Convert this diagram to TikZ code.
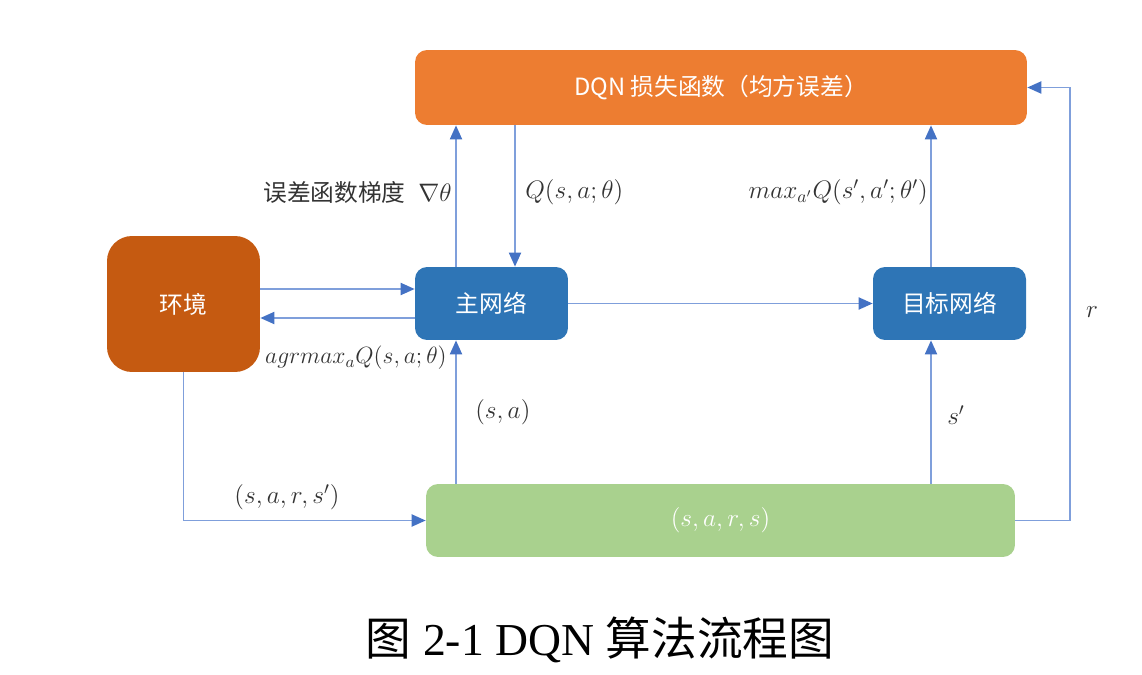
\RequirePackage{fix-cm}
\documentclass[tikz,border=0pt]{standalone}
\usepackage{fontspec}
\setmainfont{Liberation Serif}
\newfontfamily\cjk{Noto Sans CJK SC}
\usepackage{xcolor}
\usepackage{tikz}
\usetikzlibrary{arrows.meta}
\definecolor{lossfill}{HTML}{ED7D31}
\definecolor{envfill}{HTML}{C55A11}
\definecolor{netfill}{HTML}{2E75B6}
\definecolor{poolfill}{HTML}{A9D18E}
\definecolor{flowline}{HTML}{7F9FDB}
\definecolor{flowtip}{HTML}{4472C4}
\tikzset{
  % node options
  box/.style={rectangle,rounded corners=0.24cm,text=white,
    font=\fontsize{13.5pt}{16pt}\selectfont\cjk,inner sep=0pt},
  lossbox/.style={box,fill=lossfill,minimum width=12.24cm,minimum height=1.5cm},
  envbox/.style={box,fill=envfill,rounded corners=0.5cm,minimum width=3.06cm,minimum height=2.72cm},
  netbox/.style={box,fill=netfill,minimum width=3.06cm,minimum height=1.46cm},
  poolbox/.style={box,fill=poolfill,minimum width=11.78cm,minimum height=1.46cm,
    font=\fontsize{14.4pt}{16pt}\selectfont},
  lbl/.style={inner sep=0pt,text=black!80,font=\fontsize{14.4pt}{16pt}\selectfont},
  % path options
  flow/.style={draw=flowline,line width=1.1pt,
    -{Triangle[length=0.28cm,width=0.24cm,color=flowtip]}},
}
\begin{document}
\begin{tikzpicture}[x=0.02cm,y=-0.02cm]
  \useasboundingbox (0,0) rectangle (1142,675);
  \node[lossbox] (loss) at (721,87.5) {DQN 损失函数（均方误差）};
  \node[envbox] (env) at (183.5,304) {环境};
  \node[netbox] (main) at (491.5,303.5) {主网络};
  \node[netbox] (target) at (949.5,303.5) {目标网络};
  \node[poolbox] (pool) at (720.5,520.5) {$(s,a,r,s)$};
  % lanes of the connectors
  \coordinate (gradx) at (456,0);
  \coordinate (qx) at (515,0);
  \coordinate (tx) at (931,0);
  \coordinate (rx) at (1070,0);
  \coordinate (upy) at (0,289);
  \coordinate (downy) at (0,318);
  \draw[flow] (main.north -| gradx) -- (loss.south -| gradx);
  \draw[flow] (loss.south -| qx) -- (main.north -| qx);
  \draw[flow] (target.north -| tx) -- (loss.south -| tx);
  \draw[flow] (env.east |- upy) -- (main.west |- upy);
  \draw[flow] (main.west |- downy) -- (env.east |- downy);
  \draw[flow] (main) -- (target);
  \draw[flow] (pool.north -| gradx) -- (main.south -| gradx);
  \draw[flow] (pool.north -| tx) -- (target.south -| tx);
  \draw[flow] (env.south) |- (pool.west);
  \draw[flow] (pool.east) -- (pool.east -| rx) |- (loss.east);
  % labels
  \node[lbl,anchor=east] (gradlbl) at (452,192)
    {{\cjk\fontsize{13.5pt}{16pt}\selectfont 误差函数梯度}\enspace$\nabla\theta$};
  \node[lbl,anchor=west] (qlbl) at (525,192) {$Q(s,a;\theta)$};
  \node[lbl,anchor=east] (maxlbl) at (928,192) {$max_{a'}Q(s',a';\theta')$};
  \node[lbl,anchor=east,font=\fontsize{13.4pt}{15pt}\selectfont] (actlbl) at (447,358)
    {$agrmax_a Q(s,a;\theta)$};
  \node[lbl,anchor=west] (salbl) at (475,412) {$(s,a)$};
  \node[lbl] (nextlbl) at (956,415) {$s'$};
  \node[lbl] (translbl) at (287,497) {$(s,a,r,s')$};
  \node[lbl] (rlbl) at (1092,312) {$r$};
  \node[inner sep=0pt,font=\fontsize{26pt}{30pt}\selectfont] (caption) at (600,640)
    {{\cjk 图} 2-1 DQN {\cjk 算法流程图}};
\end{tikzpicture}
\end{document}
